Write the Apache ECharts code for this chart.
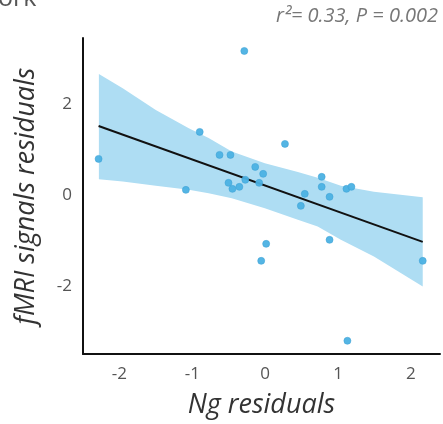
<!DOCTYPE html>
<html>
<head>
<meta charset="utf-8">
<script src="https://cdn.jsdelivr.net/npm/echarts@6/dist/echarts.min.js"></script>
<style>html,body{margin:0;padding:0;background:#fff;}#c{width:443px;height:424px;}</style>
</head>
<body>
<div id="c"></div>
<script>
// Scatter points (Ng residuals, fMRI signals residuals)
const ptX = [-0.286, -2.286, -0.898, -0.626, -0.476, -0.136, -0.027, -0.503, -0.449, -0.354, -0.272, -0.082, -1.088,
             0.272, 0.776, 0.776, 0.884, 0.544, 0.490, 1.116, 1.184, 0.014, -0.054, 0.884, 2.163, 1.129];
const ptY = [3.165, 0.791, 1.385, 0.879, 0.879, 0.615, 0.462, 0.264, 0.132, 0.176, 0.330, 0.264, 0.110,
             1.121, 0.396, 0.176, -0.044, 0.022, -0.242, 0.132, 0.176, -1.077, -1.451, -0.989, -1.451, -3.209];
// Regression line endpoints
const fitX = [-2.286, 2.163];
const fitY = [1.516, -1.033];
// Confidence band
const bandX = [-2.282, -1.955, -1.501, -1.048, -0.776, -0.458, -0.004, 0.449, 0.721, 1.039, 1.493, 2.163];
const bandUpper = [2.659, 2.345, 1.868, 1.466, 1.253, 0.952, 0.697, 0.505, 0.374, 0.198, 0.066, -0.051];
const bandLower = [0.345, 0.292, 0.198, 0.110, 0.037, -0.073, -0.292, -0.549, -0.697, -0.989, -1.356, -2.015];
const xTicks = [-2, -1, 0, 1, 2];
const yTicks = [-2, 0, 2];
const annotation = 'r²= 0.33, P = 0.002';

const FONT = '"Open Sans", sans-serif';
const chart = echarts.init(document.getElementById('c'), null, {renderer: 'canvas'});

const scatterData = ptX.map((x, i) => [x, ptY[i]]);
const fitData = fitX.map((x, i) => [x, fitY[i]]);

chart.setOption({
  animation: false,
  backgroundColor: '#fff',
  grid: {left: 83, right: 0, top: 38, bottom: 70, containLabel: false},
  xAxis: {
    type: 'value', min: -2.5, max: 2.4, interval: 0.5,
    axisLine: {show: true, onZero: false, lineStyle: {color: '#111', width: 2}},
    axisTick: {show: false},
    splitLine: {show: false},
    axisLabel: {
      color: '#555', fontSize: 17, fontFamily: FONT, margin: 12,
      formatter: v => xTicks.some(t => Math.abs(t - v) < 1e-6) ? String(Math.round(v)) : ''
    },
    name: 'Ng residuals', nameLocation: 'middle', nameGap: 38,
    nameTextStyle: {color: '#333', fontSize: 27, fontStyle: 'italic', fontFamily: FONT}
  },
  yAxis: {
    type: 'value', min: -3.5, max: 3.45, interval: 0.5,
    axisLine: {show: true, onZero: false, lineStyle: {color: '#111', width: 2}},
    axisTick: {show: false},
    splitLine: {show: false},
    axisLabel: {
      color: '#555', fontSize: 17, fontFamily: FONT, margin: 11,
      formatter: v => yTicks.some(t => Math.abs(t - v) < 1e-6) ? String(Math.round(v)) : ''
    },
    name: 'fMRI signals residuals', nameLocation: 'middle', nameGap: 43, nameRotate: 90,
    nameTextStyle: {color: '#333', fontSize: 27, fontStyle: 'italic', fontFamily: FONT}
  },
  graphic: [
    {type: 'text', right: 5, top: 6, style: {text: annotation, fill: '#777', fontSize: 20, fontStyle: 'italic', fontFamily: FONT}},
    {type: 'text', x: -2, y: 11, style: {text: 'ork', fill: '#555', fontSize: 25, fontFamily: FONT, verticalAlign: 'bottom'}}
  ],
  series: [
    {
      type: 'custom',
      data: [[0, 0]],
      z: 1,
      silent: true,
      renderItem: (params, api) => {
        const pts = [];
        for (let i = 0; i < bandX.length; i++) pts.push(api.coord([bandX[i], bandUpper[i]]));
        for (let i = bandX.length - 1; i >= 0; i--) pts.push(api.coord([bandX[i], bandLower[i]]));
        return {type: 'polygon', shape: {points: pts}, style: {fill: '#AEDDF3', stroke: null}};
      }
    },
    {
      type: 'line', data: fitData, symbol: 'none', z: 3,
      lineStyle: {color: '#111', width: 2}
    },
    {
      type: 'scatter', data: scatterData, symbolSize: 7, z: 4,
      itemStyle: {color: '#4BB1E3', borderColor: '#3FA3D6', borderWidth: 0.6, opacity: 0.95}
    }
  ]
});
</script>
</body>
</html>
